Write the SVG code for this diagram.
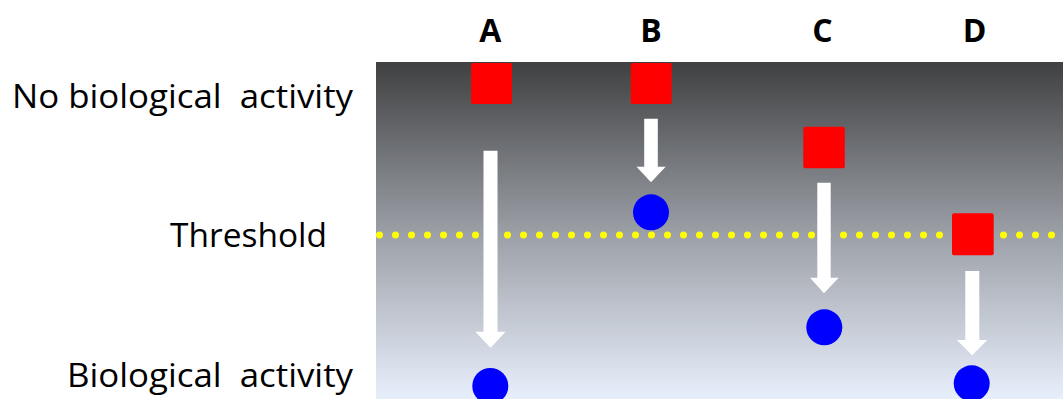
<svg xmlns="http://www.w3.org/2000/svg" width="1063" height="399" viewBox="0 0 1063 399">
<defs>
<linearGradient id="bg" x1="0" y1="0" x2="0" y2="1">
<stop offset="0" stop-color="#3f4041"/>
<stop offset="0.5" stop-color="#9a9ea5"/>
<stop offset="1" stop-color="#e8effc"/>
</linearGradient>
<style>
.lbl{font-family:"Open Sans","Liberation Sans",sans-serif;font-size:32px;fill:#000;white-space:pre}
.hdr{font-family:"Open Sans","Liberation Sans",sans-serif;font-size:32px;font-weight:bold;fill:#000;text-anchor:middle}
.sq{fill:#ff0000}
.dot{fill:#0000ff}
.arr{fill:#ffffff}
</style>
</defs>
<rect width="1063" height="399" fill="#ffffff"/>
<rect x="376" y="62" width="687" height="337" fill="url(#bg)"/>
<line x1="379.5" y1="235" x2="1063" y2="235" stroke="#ffff00" stroke-width="7" stroke-linecap="round" stroke-dasharray="0 16"/>
<text class="lbl" xml:space="preserve" x="12" y="108" textLength="341" lengthAdjust="spacingAndGlyphs">No biological  activity</text>
<text class="lbl" x="170" y="246.5" textLength="157" lengthAdjust="spacingAndGlyphs">Threshold</text>
<text class="lbl" xml:space="preserve" x="67" y="386.5" textLength="286" lengthAdjust="spacingAndGlyphs">Biological  activity</text>
<text class="hdr" x="490.3" y="41.5">A</text>
<text class="hdr" x="651" y="41.5">B</text>
<text class="hdr" x="822.5" y="41.5">C</text>
<text class="hdr" x="974.7" y="41.5">D</text>
<g id="connectors">
<polygon class="arr" points="483.5,150.7 497.5,150.7 497.5,331.7 505.7,331.7 490.5,347.7 475.3,331.7 483.5,331.7"/>
<polygon class="arr" points="644.2,118.7 657.8,118.7 657.8,166.7 665.7,166.7 651,182.3 636.5,166.7 644.2,166.7"/>
<polygon class="arr" points="817.3,182.7 830.7,182.7 830.7,277.7 838.7,277.7 824,293.3 810,277.7 817.3,277.7"/>
<polygon class="arr" points="965.3,271 979.3,271 979.3,340 987.3,340 972.2,355.3 956.8,340 965.3,340"/>
</g>
<g id="A-start"><rect class="sq" x="471" y="63" width="41" height="41" rx="2"/></g>
<g id="B-start"><rect class="sq" x="630.7" y="63" width="41" height="41" rx="2"/></g>
<g id="C-start"><rect class="sq" x="803.3" y="126.7" width="41.5" height="41.5" rx="2"/></g>
<g id="D-start"><rect class="sq" x="952" y="213.3" width="41.7" height="42" rx="2"/></g>
<g id="A-end"><circle class="dot" cx="490.3" cy="386" r="18"/></g>
<g id="B-end"><circle class="dot" cx="651" cy="212.3" r="18"/></g>
<g id="C-end"><circle class="dot" cx="824.3" cy="327.3" r="18"/></g>
<g id="D-end"><circle class="dot" cx="971.7" cy="383.3" r="18"/></g>
</svg>
